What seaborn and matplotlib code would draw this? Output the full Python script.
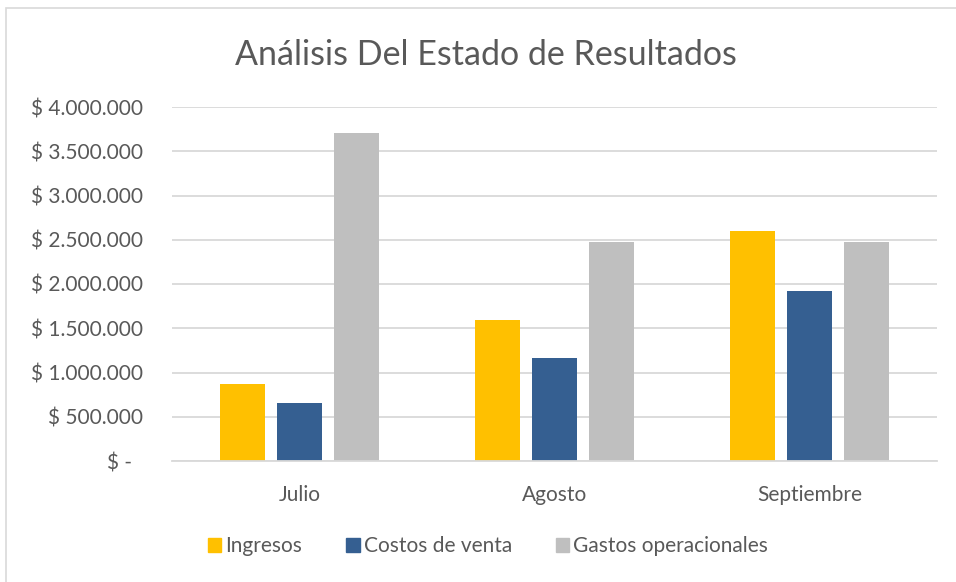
import matplotlib
matplotlib.use("Agg")
import matplotlib.pyplot as plt
import matplotlib.patches as mpatches
import matplotlib.ticker as mticker
import pandas as pd
import seaborn as sns

meses = ["Julio", "Agosto", "Septiembre"]
series = ["Ingresos", "Costos de venta", "Gastos operacionales"]
ingresos = [870000, 1595000, 2600000]
costos = [655000, 1160000, 1920000]
gastos = [3710000, 2478000, 2478000]
colores = ["#FFC000", "#355F91", "#BFBFBF"]
yticks = [0, 500000, 1000000, 1500000, 2000000, 2500000, 3000000, 3500000, 4000000]

df = pd.DataFrame({
    "Mes": meses * 3,
    "Serie": [series[0]] * 3 + [series[1]] * 3 + [series[2]] * 3,
    "Valor": ingresos + costos + gastos,
})

sns.set_style("white")
plt.rcParams["font.family"] = ["Lato", "DejaVu Sans"]
texto = "#595959"

fig = plt.figure(figsize=(9.56, 5.82), dpi=100)
ax = fig.add_axes([172 / 956, 1 - 461 / 582, 765 / 956, 354 / 582])

sns.barplot(data=df, x="Mes", y="Valor", hue="Serie", order=meses,
            hue_order=series, palette=colores, width=0.67, gap=0.22,
            saturation=1, linewidth=0, ax=ax, legend=False)

ax.set_ylim(0, 4000000)
ax.set_xlim(-0.5, 2.5)
ax.set_yticks(yticks)


def fmt(v, pos):
    if v == 0:
        return "$ -  "
    return "$ " + f"{int(v):,}".replace(",", ".")


ax.yaxis.set_major_formatter(mticker.FuncFormatter(fmt))
ax.grid(axis="y", color="#D9D9D9", linewidth=1.3)
ax.set_axisbelow(True)
for s in ["left", "right", "top"]:
    ax.spines[s].set_visible(False)
ax.spines["bottom"].set_color("#D9D9D9")
ax.spines["bottom"].set_linewidth(1.3)
ax.tick_params(axis="both", length=0, labelsize=15, colors=texto)
ax.tick_params(axis="y", pad=21)
ax.tick_params(axis="x", pad=17)
ax.set_xlabel("")
ax.set_ylabel("")

fig.text(486 / 956, 1 - 55 / 582, "Análisis Del Estado de Resultados",
         ha="center", va="center", fontsize=24.5, color=texto)

handles = [mpatches.Patch(color=c, label=s) for c, s in zip(colores, series)]
fig.legend(handles=handles, loc="center", bbox_to_anchor=(488 / 956, 1 - 546 / 582),
           ncol=3, frameon=False, fontsize=15, labelcolor=texto,
           handlelength=0.65, handleheight=0.65, handletextpad=0.2,
           columnspacing=2.1)

# marco del gráfico (solo se ven los bordes superior e izquierdo)
fig.patches.append(mpatches.Rectangle((6 / 956, -0.2), 1.2, 1.2 - 8 / 582,
                                      transform=fig.transFigure, fill=False,
                                      edgecolor="#D9D9D9", linewidth=1.2))

fig.savefig("out.png", dpi=100)
